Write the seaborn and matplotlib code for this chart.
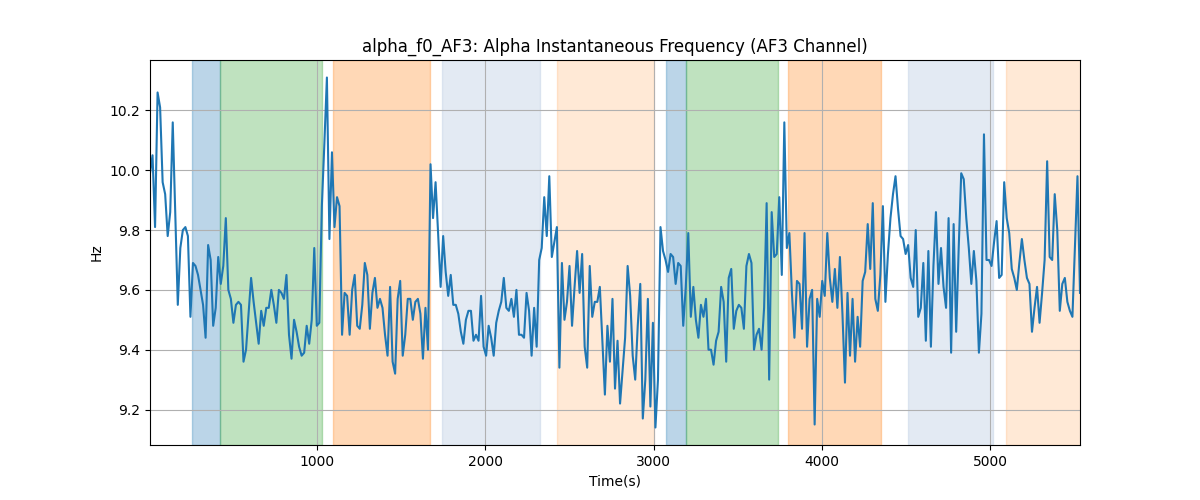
import numpy as np
import pandas as pd
import matplotlib
matplotlib.use("Agg")
import matplotlib.pyplot as plt
import seaborn as sns

t_start = 10
t_end = 5532

hz = [
    9.99, 10.05, 9.81, 10.26, 10.21, 9.96, 9.92, 9.78, 9.86, 10.16, 9.86, 9.55, 9.74, 9.80, 9.81, 9.78,
    9.51, 9.69, 9.68, 9.65, 9.60, 9.55, 9.44, 9.75, 9.70, 9.48, 9.54, 9.71, 9.62, 9.68, 9.84, 9.60,
    9.57, 9.49, 9.55, 9.56, 9.55, 9.36, 9.40, 9.52, 9.64, 9.56, 9.49, 9.42, 9.53, 9.48, 9.54, 9.54,
    9.60, 9.55, 9.49, 9.60, 9.59, 9.57, 9.65, 9.45, 9.37, 9.50, 9.46, 9.41, 9.38, 9.39, 9.48, 9.42,
    9.50, 9.74, 9.48, 9.49, 9.88, 10.09, 10.31, 9.77, 10.06, 9.81, 9.91, 9.88, 9.45, 9.59, 9.58, 9.45,
    9.60, 9.65, 9.48, 9.47, 9.55, 9.69, 9.65, 9.47, 9.59, 9.64, 9.54, 9.57, 9.54, 9.45, 9.38, 9.61,
    9.36, 9.32, 9.57, 9.63, 9.38, 9.45, 9.57, 9.57, 9.50, 9.56, 9.57, 9.52, 9.37, 9.54, 9.40, 10.02,
    9.84, 9.96, 9.79, 9.61, 9.78, 9.66, 9.58, 9.65, 9.55, 9.55, 9.52, 9.46, 9.42,
    9.50, 9.53, 9.53, 9.43, 9.45, 9.43, 9.58, 9.41, 9.38, 9.48, 9.44, 9.38, 9.49, 9.53, 9.56, 9.64,
    9.54, 9.53, 9.57, 9.51, 9.60, 9.45, 9.45, 9.44, 9.59, 9.53, 9.38, 9.54, 9.41, 9.70, 9.74, 9.91,
    9.78, 9.98, 9.71, 9.76, 9.81, 9.34, 9.69, 9.50, 9.56, 9.68, 9.48, 9.61, 9.73, 9.59, 9.72, 9.41,
    9.34, 9.68, 9.51, 9.56, 9.56, 9.61, 9.43, 9.25, 9.48, 9.36, 9.57, 9.27, 9.43, 9.22,
    9.33, 9.44, 9.68, 9.58, 9.38, 9.30, 9.48, 9.62, 9.17, 9.30, 9.57, 9.21, 9.49, 9.14, 9.30, 9.81,
    9.73, 9.70, 9.66, 9.72, 9.71, 9.62, 9.69, 9.68, 9.48, 9.61, 9.79, 9.51, 9.61, 9.50, 9.44, 9.55,
    9.51, 9.57, 9.40, 9.40, 9.35, 9.43, 9.46, 9.61, 9.56, 9.36, 9.64, 9.67, 9.47, 9.53, 9.55, 9.54,
    9.47, 9.68, 9.72, 9.69, 9.40, 9.45, 9.47, 9.40, 9.54, 9.89, 9.30, 9.86, 9.71,
    9.72, 9.91, 9.65, 10.16, 9.74, 9.79, 9.59, 9.44, 9.63, 9.62, 9.47, 9.79, 9.41, 9.57, 9.60, 9.15,
    9.57, 9.51, 9.63, 9.58, 9.79, 9.64, 9.56, 9.67, 9.54, 9.71, 9.52, 9.29, 9.59, 9.38, 9.57, 9.36,
    9.51, 9.41, 9.63, 9.66, 9.82, 9.67, 9.89, 9.57, 9.53, 9.65, 9.88, 9.56, 9.72, 9.84, 9.92, 9.98,
    9.87, 9.78, 9.77, 9.72, 9.75, 9.64, 9.61, 9.80, 9.51, 9.54, 9.69, 9.43, 9.73,
    9.41, 9.68, 9.86, 9.62, 9.74, 9.61, 9.54, 9.84, 9.39, 9.82, 9.46, 9.74, 9.99, 9.97, 9.84, 9.74,
    9.62, 9.73, 9.63, 9.39, 9.52, 10.12, 9.70, 9.70, 9.68, 9.76, 9.83, 9.64, 9.65, 9.96, 9.84, 9.79,
    9.67, 9.64, 9.60, 9.69, 9.77, 9.70, 9.64, 9.62, 9.46, 9.54, 9.61, 9.49, 9.59, 9.70, 10.03, 9.71,
    9.70, 9.92, 9.80, 9.53, 9.62, 9.64, 9.56, 9.53, 9.51, 9.74, 9.98, 9.59,
]

span_starts = [260, 428, 1097, 1744, 2426, 3073, 3194, 3797, 4509, 5091]
span_ends = [428, 1030, 1672, 2325, 3000, 3194, 3736, 4353, 5015, 5600]
span_colors = ["tab:blue", "tab:green", "tab:orange", "lightsteelblue", "tab:orange",
               "tab:blue", "tab:green", "tab:orange", "lightsteelblue", "tab:orange"]
span_alphas = [0.3, 0.3, 0.3, 0.35, 0.17, 0.3, 0.3, 0.3, 0.35, 0.17]

time = np.linspace(t_start, t_end, len(hz))
df = pd.DataFrame({"Time(s)": time, "Hz": hz})

fig, ax = plt.subplots(figsize=(12, 5), dpi=100)
for s, e, c, a in zip(span_starts, span_ends, span_colors, span_alphas):
    ax.axvspan(s, e, color=c, alpha=a, linewidth=1)
sns.lineplot(data=df, x="Time(s)", y="Hz", ax=ax, color="tab:blue", linewidth=1.5)
ax.grid(True)
ax.set_xlim(t_start, t_end)
ax.set_title("alpha_f0_AF3: Alpha Instantaneous Frequency (AF3 Channel)")
ax.set_xlabel("Time(s)")
ax.set_ylabel("Hz")
fig.savefig("out.png", dpi=100)
